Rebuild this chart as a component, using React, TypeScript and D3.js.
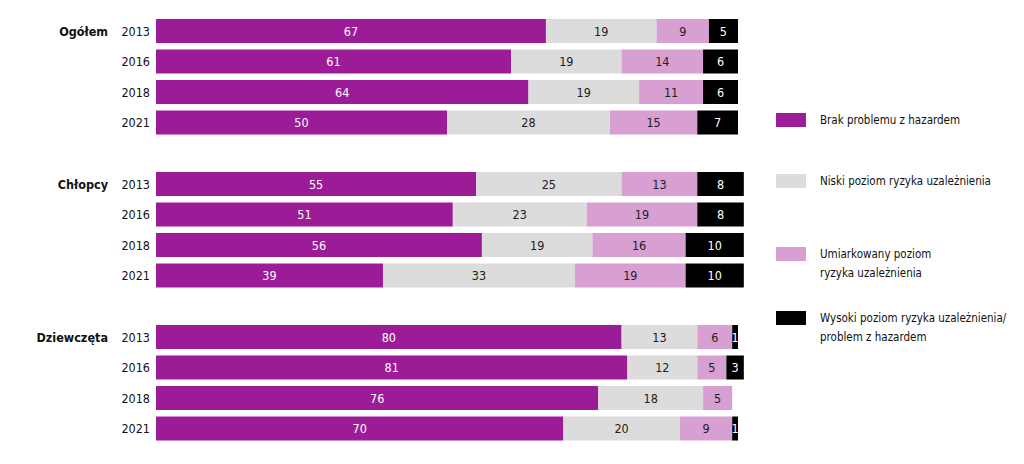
import React from "react";
import * as d3 from "d3";

const groups = ["Ogółem", "Chłopcy", "Dziewczęta"];
const years = ["2013", "2016", "2018", "2021"];
const series = ["Brak problemu z hazardem", "Niski poziom ryzyka uzależnienia", "Umiarkowany poziom ryzyka uzależnienia", "Wysoki poziom ryzyka uzależnienia/ problem z hazardem"];
const legendLines = [["Brak problemu z hazardem"], ["Niski poziom ryzyka uzależnienia"], ["Umiarkowany poziom", "ryzyka uzależnienia"], ["Wysoki poziom ryzyka uzależnienia/", "problem z hazardem"]];
const values: number[][][] = [
  [[67, 19, 9, 5], [61, 19, 14, 6], [64, 19, 11, 6], [50, 28, 15, 7]],
  [[55, 25, 13, 8], [51, 23, 19, 8], [56, 19, 16, 10], [39, 33, 19, 10]],
  [[80, 13, 6, 1], [81, 12, 5, 3], [76, 18, 5, 0], [70, 20, 9, 1]],
];
const colors = ["#9c1c97", "#dcdcdc", "#d89fd3", "#000000"];
const textColors = ["#fff", "#222", "#222", "#fff"];

export default function App() {
  const x = d3.scaleLinear().domain([0, 100]).range([156, 738]);
  const rowY = (g: number, r: number) => 19 + g * 153 + r * 30.5;
  const bh = 24;
  const font = "'DejaVu Sans Condensed', 'DejaVu Sans', sans-serif";
  const legendY = [120, 181, 254, 318];
  return (
    <svg width={1024} height={464} style={{ position: "absolute", left: 0, top: 0, background: "#fff" }} fontFamily={font}>
      {groups.map((g, gi) => (
        <g key={g}>
          <text x={108} y={rowY(gi, 0) + bh / 2} textAnchor="end" dominantBaseline="central" fontSize={12.5} fontWeight="bold" fill="#111">{g}</text>
          {years.map((yr, ri) => {
            let acc = 0;
            const y = rowY(gi, ri);
            return (
              <g key={yr}>
                <text x={150} y={y + bh / 2} textAnchor="end" dominantBaseline="central" fontSize={12.5} fill="#111">{yr}</text>
                {values[gi][ri].map((v, si) => {
                  const x0 = x(acc);
                  acc += v;
                  if (v === 0) return null;
                  const w = x(acc) - x0;
                  return (
                    <g key={si}>
                      <rect x={x0} y={y} width={w} height={bh} fill={colors[si]} />
                      <text x={x0 + w / 2} y={y + bh / 2} textAnchor="middle" dominantBaseline="central" fontSize={12.5} fill={textColors[si]}>{v}</text>
                    </g>
                  );
                })}
              </g>
            );
          })}
        </g>
      ))}
      {series.map((s, i) => (
        <g key={s}>
          <rect x={776} y={legendY[i] - 7} width={30} height={14} fill={colors[i]} />
          {legendLines[i].map((l, li) => (
            <text key={li} x={820} y={legendY[i] + li * 19} dominantBaseline="central" fontSize={11.5} fill="#111">{l}</text>
          ))}
        </g>
      ))}
    </svg>
  );
}
